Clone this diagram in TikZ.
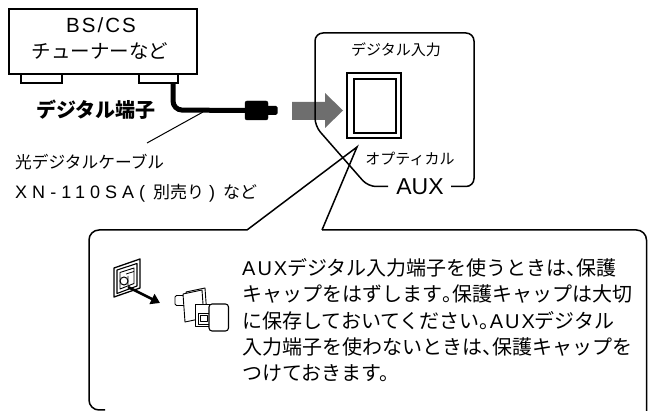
\documentclass[tikz,border=0pt]{standalone}
\usepackage{fontspec}
\setmainfont{Noto Sans CJK JP}
\newfontfamily\lat{Liberation Sans}[LetterSpace=10]
\newfontfamily\latw{Liberation Sans}[LetterSpace=28]
\newfontfamily\latn{Liberation Sans}
\usetikzlibrary{arrows.meta}
\newcommand{\fs}[1]{\fontsize{#1}{#1}\selectfont}
% half-width Japanese punctuation
\newcommand{\hten}{\makebox[0.5em][l]{、}}
\newcommand{\hmaru}{\makebox[0.5em][l]{。}}
% justified line of the notice
\newcommand{\jline}[1]{\makebox[390pt][s]{#1}}
\XeTeXlinebreaklocale "ja"
\XeTeXlinebreakskip=0pt plus 1pt
\begin{document}
\begin{tikzpicture}[x=1pt,y=-1pt,
  outline/.style={line width=1.5pt},
  thin/.style={line width=1pt},
  txt/.style={inner sep=0pt, anchor=base},
  txtl/.style={inner sep=0pt, anchor=base west},
  icon/.style={line width=0.9pt, fill=white, line join=round}]
\useasboundingbox (0,0) rectangle (648,411);

% tuner box with feet
\draw[outline, fill=white] (21,74) rectangle (62,83);
\draw[outline, fill=white] (139,74) rectangle (178,83);
\draw[outline, fill=white] (9,9) rectangle (197,74);
\node[txt, font=\fs{20.5}] (bscs) at (101,32.5) {\lat BS/CS};
\node[txt, font=\fs{19.5}] (tuner) at (100,59) {チューナーなど};
\coordinate (jack) at (173,83);

% optical cable and plug
\coordinate (bend) at (173,110);
\node[draw, fill=black, rounded corners=2pt, minimum width=23pt, minimum height=19pt, inner sep=0pt] (plug) at (256.5,110.5) {};
\node[fill=black, rounded corners=1.5pt, minimum width=11pt, minimum height=9pt, inner sep=0pt] (nub) at (272,110.5) {};
\draw[line width=5pt, rounded corners=9pt] (jack) -- (bend) -- (plug.west);
\node[txt, font=\bfseries\fs{20}] (term) at (96,117.5) {デジタル端子};

% cable label and leader
\node[txtl, font=\fs{16.7}] (cable) at (15,168.5) {光デジタルケーブル};
\node[txtl, font=\fs{17}] (model) at (15,199) {{\fontsize{18}{18}\latw XN-110SA(}\hspace{8pt}別売り\hspace{5pt}{\fontsize{18}{18}\latn )}\hspace{8pt}など};
\coordinate (lead) at (147,143);
\coordinate (leadend) at (203,112);
\draw[thin] (lead) -- (leadend);

% grey insertion arrow
\fill[black!57] (292,102) -- (325,102) -- (325,93) -- (343,110.5) -- (325,128) -- (325,120) -- (292,120) -- cycle;

% AUX input panel
\draw[outline, rounded corners=8pt] (388,186.5) -- (368,186.5) -- (315,126) -- (315,33) -- (474,33) -- (474,186.5) -- (451,186.5);
\node[txt, font=\fs{15}] (din) at (396,55.5) {デジタル入力};
\node[txt, font=\fs{15}] (opt) at (410,165) {オプティカル};
\node[txt, font=\fs{23}] (aux) at (420,194.5) {\latn AUX};
\node[draw, line width=1.6pt, minimum width=54pt, minimum height=65pt, inner sep=0pt] (port) at (374,105.5) {};
\draw[line width=1.6pt] (354,79) rectangle (396,133);

% callout pointing at the optical port
\coordinate (apex) at (357,147);
\coordinate (cl) at (247,230);
\coordinate (cr) at (322,230);
\draw[outline] (cl) -- (apex) -- (cr);
\draw[outline, rounded corners=10pt] (105,410) -- (89,410) -- (89,230) -- (cl);
\draw[outline, rounded corners=10pt] (cr) -- (646.5,230) -- (646.5,420);

% port with its cover removed
\draw[icon, line width=1.3pt] (114,268) -- (140,259) -- (140,288) -- (114,297) -- cycle;
\draw[icon, line width=1.1pt] (117,270) -- (137,263.5) -- (137,286) -- (117,293.5) -- cycle;
\draw[icon] (120,272.5) -- (134,268) -- (134,283.5) -- (120,289) -- cycle;
\draw[thin] (124,281) circle[radius=4];
\draw[line width=0.8pt] (126,274) -- (134,271.5) (128,276) -- (128,285);
\draw[line width=2.6pt, -{Triangle[length=9pt,width=11pt]}] (128,287) -- (160,303);

% protective cap
\draw[icon, rounded corners=1.5pt] (175,295.5) rectangle (186,305.5);
\draw[icon] (186,292) -- (205,288) -- (207,316) -- (188,320) -- cycle;
\draw[icon] (183,294) -- (202,290) -- (204,318) -- (185,322) -- cycle;
\draw[icon] (195,304) rectangle (214,326);
\draw[icon] (198,313) rectangle (209,324);
\draw[icon] (200,315.5) rectangle (207,321.5);
\draw[icon, line width=1.1pt, rounded corners=3pt] (209,304) rectangle (228.5,331);

% notice text
\node[txtl, font=\fs{20}] (l1) at (242,275.5) {\jline{{\lat AUX}デジタル入力端子を使うときは\hten 保護}};
\node[txtl, font=\fs{20}] (l2) at (242,302) {\jline{キャップをはずします\hmaru 保護キャップは大切}};
\node[txtl, font=\fs{20}] (l3) at (242,328.5) {\jline{に保存しておいてください\hmaru{\lat AUX}デジタル}};
\node[txtl, font=\fs{20}] (l4) at (242,355) {\jline{入力端子を使わないときは\hten 保護キャップを}};
\node[txtl, font=\fs{20}] (l5) at (242,381) {つけておきます。};
\end{tikzpicture}
\end{document}
